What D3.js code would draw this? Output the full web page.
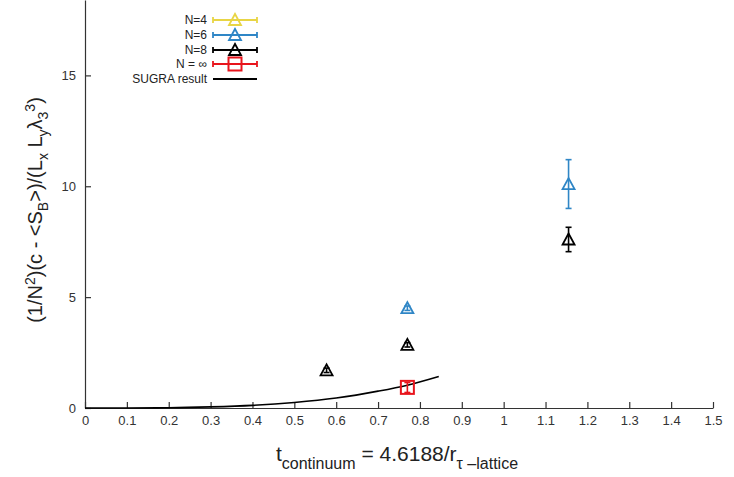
<!DOCTYPE html>
<html>
<head>
<meta charset="utf-8">
<script src="https://cdn.jsdelivr.net/npm/d3@7"></script>
<style>
body { margin: 0; background: #fff; }
text { font-family: "Liberation Sans", Arial, sans-serif; }
</style>
</head>
<body>
<svg width="734" height="477"></svg>
<script>
var width = 734;
var height = 477;
var margin = {left: 85, right: 21, top: 0, bottom: 69};

// data
var xTicks = [0, 0.1, 0.2, 0.3, 0.4, 0.5, 0.6, 0.7, 0.8, 0.9, 1, 1.1, 1.2, 1.3, 1.4, 1.5];
var yTicks = [0, 5, 10, 15];

var n4 = [];
var n6 = [
	{x: 0.770, y: 4.5, lo: 4.4, hi: 4.6},
	{x: 1.155, y: 10.1, lo: 9.0, hi: 11.2}
];
var n8 = [
	{x: 0.577, y: 1.7, lo: 1.6, hi: 1.8},
	{x: 0.770, y: 2.85, lo: 2.75, hi: 2.95},
	{x: 1.155, y: 7.6, lo: 7.05, hi: 8.15}
];
var nInf = [
	{x: 0.770, y: 0.93, lo: 0.7, hi: 1.15}
];
var sugraX = [0, 0.1, 0.2, 0.3, 0.4, 0.5, 0.6, 0.7, 0.77, 0.845];
var sugraY = [0, 0.001, 0.01, 0.05, 0.12, 0.25, 0.45, 0.76, 1.03, 1.42];

var legendNames = ["N=4", "N=6", "N=8", "N = \u221e", "SUGRA result"];
var legendColors = ["#e8d545", "#2f86c6", "#000000", "#e8141c", "#000000"];

var xScale = d3.scaleLinear().domain([0, 1.5]).range([margin.left, width - margin.right]);
var yScale = d3.scaleLinear().domain([0, 18.4]).range([408, 0]);

var svg = d3.select('svg');

// axes, gnuplot style inward ticks
var axisBottom = d3.axisBottom(xScale).tickValues(xTicks).tickSizeInner(-6).tickSizeOuter(0)
	.tickFormat(function (d) { return d3.format("")(+d.toFixed(1)); });
var axisLeft = d3.axisLeft(yScale).tickValues(yTicks).tickSizeInner(-6).tickSizeOuter(0);

var gx = svg.append('g')
	.attr("transform", "translate(0," + yScale(0) + ")")
	.call(axisBottom);
var gy = svg.append('g')
	.attr("transform", "translate(" + xScale(0) + ",0)")
	.call(axisLeft);

[gx, gy].forEach(function (g) {
	g.selectAll("path").attr("stroke", "#333").attr("stroke-width", 1.2);
	g.selectAll("line").attr("stroke", "#333").attr("stroke-width", 1.2);
	g.selectAll("text").attr("font-size", 13).attr("fill", "#333")
		.attr("font-family", "Liberation Sans, Arial, sans-serif");
});
gx.selectAll("text").attr("dy", "1.1em").attr("y", 3);
gy.selectAll("text").attr("x", -9);

// SUGRA curve
var sugra = sugraX.map(function (x, i) { return [x, sugraY[i]]; });
svg.append("path")
	.datum(sugra)
	.attr("fill", "none")
	.attr("stroke", "#000")
	.attr("stroke-width", 1.6)
	.attr("d", d3.line().curve(d3.curveMonotoneX)
		.x(function (d) { return xScale(d[0]); })
		.y(function (d) { return yScale(d[1]); }));

function triangle(g, cx, cy, color) {
	g.append("path")
		.attr("d", "M" + (cx - 6) + "," + (cy + 5) + "L" + (cx + 6) + "," + (cy + 5) + "L" + cx + "," + (cy - 6) + "Z")
		.attr("fill", "none").attr("stroke", color).attr("stroke-width", 1.8);
}
function square(g, cx, cy, color) {
	g.append("rect")
		.attr("x", cx - 6.5).attr("y", cy - 6.5).attr("width", 13).attr("height", 13)
		.attr("fill", "none").attr("stroke", color).attr("stroke-width", 2);
}

function drawSeries(data, color, marker) {
	var g = svg.append("g");
	data.forEach(function (d) {
		var cx = xScale(d.x);
		g.append("line").attr("x1", cx).attr("x2", cx)
			.attr("y1", yScale(d.lo)).attr("y2", yScale(d.hi))
			.attr("stroke", color).attr("stroke-width", 1.6);
		[d.lo, d.hi].forEach(function (v) {
			g.append("line").attr("x1", cx - 3).attr("x2", cx + 3)
				.attr("y1", yScale(v)).attr("y2", yScale(v))
				.attr("stroke", color).attr("stroke-width", 1.6);
		});
		marker(g, cx, yScale(d.y), color);
	});
}
drawSeries(n4, legendColors[0], triangle);
drawSeries(n8, legendColors[2], triangle);
drawSeries(n6, legendColors[1], triangle);
drawSeries(nInf, legendColors[3], square);

// legend
var legY = [20, 35, 50, 64, 79];
var legend = svg.append("g");
legendNames.forEach(function (name, i) {
	var y = legY[i];
	var c = legendColors[i];
	legend.append("text").attr("x", 207).attr("y", y + 4)
		.attr("text-anchor", "end").attr("font-size", 12).attr("fill", "#222")
		.text(name);
	if (i < 4) {
		legend.append("line").attr("x1", 213).attr("x2", 257).attr("y1", y).attr("y2", y)
			.attr("stroke", c).attr("stroke-width", 1.8);
		[213, 257].forEach(function (x) {
			legend.append("line").attr("x1", x).attr("x2", x).attr("y1", y - 3).attr("y2", y + 3)
				.attr("stroke", c).attr("stroke-width", 1.8);
		});
		if (i == 3) square(legend, 235, y, c); else triangle(legend, 235, y, c);
	} else {
		legend.append("line").attr("x1", 213).attr("x2", 257).attr("y1", y).attr("y2", y)
			.attr("stroke", c).attr("stroke-width", 1.8);
	}
});

// y label
var ylab = svg.append("text")
	.attr("transform", "translate(42,210) rotate(-90)")
	.attr("text-anchor", "middle")
	.attr("font-size", 20).attr("fill", "#222");
ylab.append("tspan").text("(1/N");
ylab.append("tspan").attr("baseline-shift", "7").attr("font-size", 14).text("2");
ylab.append("tspan").text(")(c - <S");
ylab.append("tspan").attr("baseline-shift", "-6").attr("font-size", 14).text("B");
ylab.append("tspan").text(">)/(L");
ylab.append("tspan").attr("baseline-shift", "-6").attr("font-size", 14).text("x");
ylab.append("tspan").text(" L");
ylab.append("tspan").attr("baseline-shift", "-6").attr("font-size", 14).text("y");
ylab.append("tspan").text("\u03bb");
ylab.append("tspan").attr("baseline-shift", "-6").attr("font-size", 14).text("3");
ylab.append("tspan").attr("baseline-shift", "7").attr("font-size", 14).text("3");
ylab.append("tspan").text(")");

// x label
var xlab = svg.append("text")
	.attr("x", 397).attr("y", 461)
	.attr("text-anchor", "middle")
	.attr("font-size", 21).attr("fill", "#222");
xlab.append("tspan").text("t");
xlab.append("tspan").attr("baseline-shift", "-8").attr("font-size", 16).text("continuum");
xlab.append("tspan").text(" = 4.6188/r");
xlab.append("tspan").attr("baseline-shift", "-8").attr("font-size", 16).text("\u03c4 \u2013lattice");
</script>
</body>
</html>
